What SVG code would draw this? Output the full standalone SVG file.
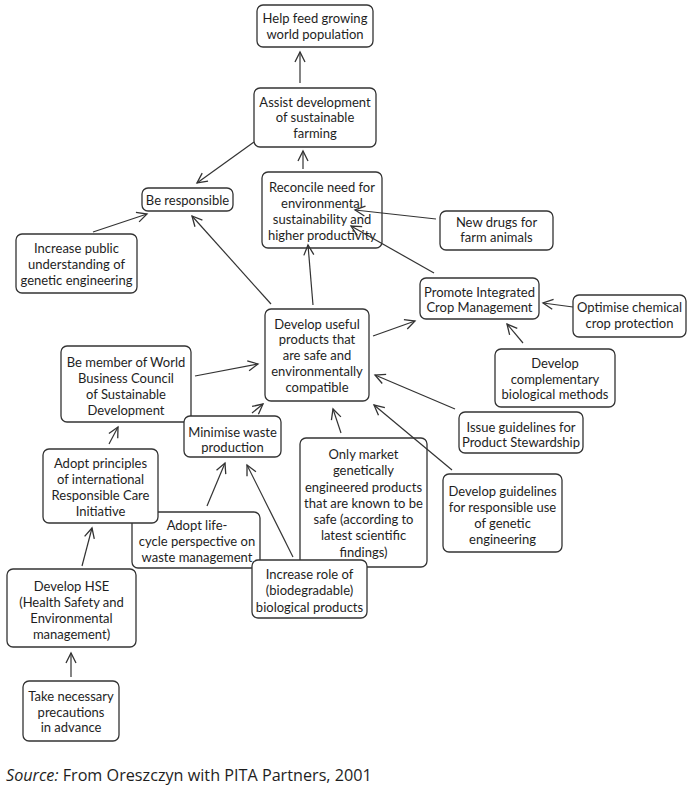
<svg xmlns="http://www.w3.org/2000/svg" width="692" height="795" viewBox="0 0 692 795">
<style>
.n rect{fill:#fff;stroke:#333;stroke-width:1.3}
.n text{font-family:Lato,"Liberation Sans",sans-serif;font-size:13px;fill:#1e1e1e;text-anchor:middle}
#edges line{stroke:#333;stroke-width:1.2;marker-end:url(#ah)}
.src{font-family:"Open Sans","Liberation Sans",sans-serif;font-size:16.2px;fill:#1e1e1e}
</style>
<defs>
<marker id="ah" markerUnits="userSpaceOnUse" markerWidth="14" markerHeight="14" refX="11" refY="6" orient="auto">
<path d="M1,1 L11,6 L1,11" fill="none" stroke="#333" stroke-width="1.3"/>
</marker>
</defs>
<rect width="692" height="795" fill="#fff"/>
<g id="help" class="n"><rect x="257" y="5" width="116" height="42" rx="6"/><text x="315"><tspan x="315" y="22.5">Help feed growing</tspan><tspan x="315" y="38.5">world population</tspan></text></g>
<g id="assist" class="n"><rect x="254" y="88" width="122" height="59" rx="6"/><text><tspan x="315" y="106.5">Assist development</tspan><tspan x="315" y="121.5">of sustainable</tspan><tspan x="315" y="137.5">farming</tspan></text></g>
<g id="beresp" class="n"><rect x="142" y="188" width="91" height="23" rx="6"/><text><tspan x="187.5" y="204.5">Be responsible</tspan></text></g>
<g id="reconcile" class="n"><rect x="262" y="172" width="120" height="76" rx="6"/><text><tspan x="322" y="191.5">Reconcile need for</tspan><tspan x="322" y="207.5">environmental</tspan><tspan x="322" y="223.5">sustainability and</tspan><tspan x="322" y="239.5">higher productivity</tspan></text></g>
<g id="incpublic" class="n"><rect x="16" y="234" width="121" height="59" rx="6"/><text><tspan x="76.5" y="252.5">Increase public</tspan><tspan x="76.5" y="268.5">understanding of</tspan><tspan x="76.5" y="284.5">genetic engineering</tspan></text></g>
<g id="newdrugs" class="n"><rect x="440" y="211" width="113" height="39" rx="6"/><text><tspan x="496.5" y="226.5">New drugs for</tspan><tspan x="496.5" y="241.5">farm animals</tspan></text></g>
<g id="icm" class="n"><rect x="420" y="278" width="119" height="41" rx="6"/><text><tspan x="479.5" y="296.5">Promote Integrated</tspan><tspan x="479.5" y="311.5">Crop Management</tspan></text></g>
<g id="optimise" class="n"><rect x="573" y="295" width="113" height="42" rx="6"/><text><tspan x="629.5" y="311.5">Optimise chemical</tspan><tspan x="629.5" y="327.5">crop protection</tspan></text></g>
<g id="devcomp" class="n"><rect x="495" y="349" width="120" height="58" rx="6"/><text><tspan x="555" y="367.5">Develop</tspan><tspan x="555" y="383.5">complementary</tspan><tspan x="555" y="398.5">biological methods</tspan></text></g>
<g id="issue" class="n"><rect x="459" y="412" width="124" height="41" rx="6"/><text><tspan x="521" y="431.5">Issue guidelines for</tspan><tspan x="521" y="446.5">Product Stewardship</tspan></text></g>
<g id="devuseful" class="n"><rect x="265" y="309" width="104" height="92" rx="6"/><text><tspan x="317" y="328.5">Develop useful</tspan><tspan x="317" y="343.5">products that</tspan><tspan x="317" y="359.5">are safe and</tspan><tspan x="317" y="375.5">environmentally</tspan><tspan x="317" y="391.5">compatible</tspan></text></g>
<g id="bemember" class="n"><rect x="61" y="346" width="130" height="76" rx="6"/><text><tspan x="126" y="366.5">Be member of World</tspan><tspan x="126" y="382.5">Business Council</tspan><tspan x="126" y="398.5">of Sustainable</tspan><tspan x="126" y="414.5">Development</tspan></text></g>
<g id="minimise" class="n"><rect x="184" y="416" width="97" height="41" rx="6"/><text><tspan x="232.5" y="436.5">Minimise waste</tspan><tspan x="232.5" y="451.5">production</tspan></text></g>
<g id="lifecycle" class="n"><rect x="132" y="512" width="128" height="56" rx="6"/><text><tspan x="197" y="529.5">Adopt life-</tspan><tspan x="197" y="545.5">cycle perspective on</tspan><tspan x="197" y="561.5">waste management</tspan></text></g>
<g id="adoptrc" class="n"><rect x="43" y="449" width="115" height="74" rx="6"/><text><tspan x="100.5" y="467.5">Adopt principles</tspan><tspan x="100.5" y="483.5">of international</tspan><tspan x="100.5" y="499.5">Responsible Care</tspan><tspan x="100.5" y="515.5">Initiative</tspan></text></g>
<g id="onlymarket" class="n"><rect x="300" y="438" width="127" height="129" rx="6"/><text><tspan x="363.5" y="458.5">Only market</tspan><tspan x="363.5" y="474.5">genetically</tspan><tspan x="363.5" y="491.5">engineered products</tspan><tspan x="363.5" y="507.5">that are known to be</tspan><tspan x="363.5" y="523.5">safe (according to</tspan><tspan x="363.5" y="539.5">latest scientific</tspan><tspan x="363.5" y="556.5">findings)</tspan></text></g>
<g id="devguide" class="n"><rect x="443" y="474" width="119" height="78" rx="6"/><text><tspan x="502.5" y="495.5">Develop guidelines</tspan><tspan x="502.5" y="511.5">for responsible use</tspan><tspan x="502.5" y="527.5">of genetic</tspan><tspan x="502.5" y="543.5">engineering</tspan></text></g>
<g id="incrole" class="n"><rect x="252" y="560" width="115" height="58" rx="6"/><text><tspan x="309.5" y="578.5">Increase role of</tspan><tspan x="309.5" y="594.5">(biodegradable)</tspan><tspan x="309.5" y="611.5">biological products</tspan></text></g>
<g id="hse" class="n"><rect x="7" y="569" width="129" height="78" rx="6"/><text><tspan x="71.5" y="590.5">Develop HSE</tspan><tspan x="71.5" y="606.5">(Health Safety and</tspan><tspan x="71.5" y="622.5">Environmental</tspan><tspan x="71.5" y="638.5">management)</tspan></text></g>
<g id="take" class="n"><rect x="23" y="681" width="96" height="60" rx="6"/><text><tspan x="71" y="700.5">Take necessary</tspan><tspan x="71" y="716.5">precautions</tspan><tspan x="71" y="731.5">in advance</tspan></text></g>
<g id="edges">
<line x1="300" y1="83" x2="300" y2="52"/>
<line x1="254" y1="142" x2="197" y2="183"/>
<line x1="303" y1="169" x2="303" y2="151"/>
<line x1="93" y1="232" x2="147" y2="214"/>
<line x1="271" y1="304" x2="192" y2="216"/>
<line x1="313" y1="305" x2="308" y2="245"/>
<line x1="436" y1="219" x2="355" y2="210"/>
<line x1="434" y1="273" x2="351" y2="226"/>
<line x1="373" y1="336" x2="415" y2="321"/>
<line x1="573" y1="307" x2="543" y2="303"/>
<line x1="523" y1="343" x2="507" y2="324"/>
<line x1="455" y1="409" x2="375" y2="375"/>
<line x1="452" y1="470" x2="374" y2="405"/>
<line x1="341" y1="433" x2="333" y2="409"/>
<line x1="195" y1="376" x2="258" y2="364"/>
<line x1="252" y1="413" x2="263" y2="404"/>
<line x1="109" y1="444" x2="118" y2="427"/>
<line x1="207" y1="506" x2="225" y2="463"/>
<line x1="293" y1="557" x2="247" y2="465"/>
<line x1="82" y1="566" x2="92" y2="528"/>
<line x1="71" y1="677" x2="71" y2="653"/>
</g>
<text class="src" x="6" y="781"><tspan font-style="italic">Source:</tspan> From Oreszczyn with PITA Partners, 2001</text>
</svg>
